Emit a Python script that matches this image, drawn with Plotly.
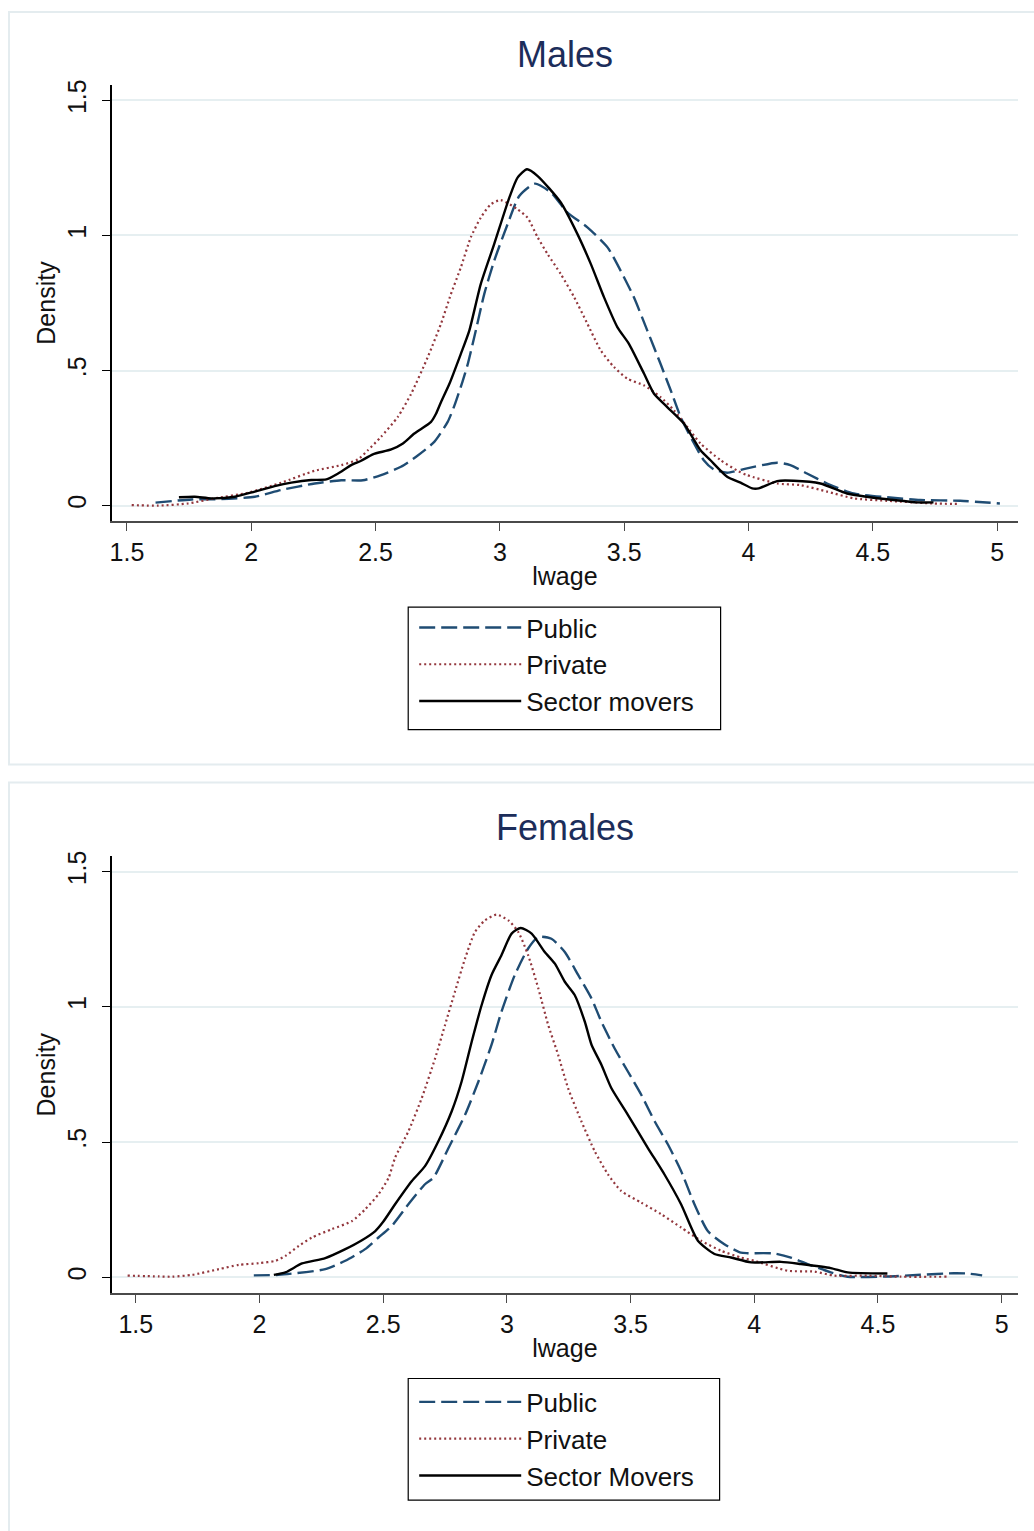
import plotly.graph_objects as go

W, H = 1034, 1531

# ---------------- data ----------------
m_pub_x = [1.615, 1.76, 1.88, 2.014, 2.121, 2.255, 2.362, 2.449, 2.522, 2.602, 2.663, 2.736, 2.79, 2.817, 2.85,
           2.871, 2.897, 2.937, 2.977, 3.031, 3.078, 3.141, 3.205, 3.272, 3.352, 3.433, 3.486, 3.539, 3.593,
           3.646, 3.687, 3.727, 3.774, 3.82, 3.86, 3.914, 3.994, 4.115, 4.168, 4.235, 4.316, 4.423, 4.557,
           4.69, 4.851, 5.011]
m_pub_y = [0.011, 0.023, 0.024, 0.033, 0.058, 0.082, 0.094, 0.094, 0.113, 0.144, 0.181, 0.236, 0.31, 0.37, 0.46,
           0.525, 0.624, 0.783, 0.906, 1.042, 1.146, 1.192, 1.159, 1.085, 1.03, 0.956, 0.869, 0.771, 0.648,
           0.525, 0.427, 0.328, 0.242, 0.168, 0.134, 0.122, 0.138, 0.159, 0.15, 0.119, 0.082, 0.045, 0.031,
           0.021, 0.018, 0.008]

m_pri_x = [1.519, 1.626, 1.746, 1.853, 1.987, 2.121, 2.255, 2.362, 2.429, 2.469, 2.522, 2.589, 2.643, 2.71,
           2.763, 2.803, 2.843, 2.883, 2.923, 2.963, 3.003, 3.071, 3.111, 3.152, 3.192, 3.245, 3.299, 3.352,
           3.406, 3.459, 3.513, 3.58, 3.646, 3.7, 3.754, 3.807, 3.888, 3.954, 3.994, 4.115, 4.208, 4.316,
           4.423, 4.557, 4.744, 4.851]
m_pri_y = [0.002, 0.0, 0.008, 0.027, 0.048, 0.085, 0.129, 0.15, 0.171, 0.205, 0.255, 0.328, 0.414, 0.55,
           0.673, 0.783, 0.882, 0.993, 1.066, 1.115, 1.131, 1.097, 1.066, 0.993, 0.931, 0.857, 0.771, 0.673,
           0.574, 0.513, 0.47, 0.445, 0.402, 0.353, 0.291, 0.23, 0.168, 0.13, 0.113, 0.082, 0.076, 0.052,
           0.027, 0.018, 0.008, 0.006]

m_mov_x = [1.709, 1.773, 1.84, 1.934, 2.014, 2.094, 2.161, 2.241, 2.302, 2.349, 2.402, 2.442, 2.489, 2.563,
           2.61, 2.656, 2.723, 2.743, 2.763, 2.797, 2.843, 2.877, 2.923, 2.977, 3.038, 3.071, 3.109, 3.152,
           3.245, 3.312, 3.366, 3.419, 3.473, 3.519, 3.58, 3.62, 3.673, 3.74, 3.807, 3.847, 3.914, 3.968,
           4.015, 4.041, 4.115, 4.182, 4.289, 4.396, 4.476, 4.583, 4.677, 4.744]
m_mov_y = [0.031, 0.033, 0.027, 0.033, 0.052, 0.072, 0.085, 0.095, 0.097, 0.119, 0.15, 0.166, 0.19, 0.208,
           0.23, 0.267, 0.31, 0.34, 0.383, 0.451, 0.562, 0.648, 0.82, 0.968, 1.14, 1.214, 1.245, 1.22,
           1.122, 1.005, 0.894, 0.771, 0.66, 0.599, 0.488, 0.414, 0.365, 0.304, 0.205, 0.168, 0.107, 0.085,
           0.064, 0.064, 0.091, 0.092, 0.082, 0.045, 0.033, 0.021, 0.012, 0.012]

f_pub_x = [1.977, 2.078, 2.266, 2.347, 2.427, 2.481, 2.535, 2.602, 2.669, 2.703, 2.764, 2.831, 2.885, 2.938,
           2.978, 3.032, 3.086, 3.127, 3.18, 3.234, 3.288, 3.342, 3.382, 3.435, 3.489, 3.543, 3.597, 3.651,
           3.704, 3.758, 3.812, 3.879, 3.946, 3.973, 4.081, 4.148, 4.215, 4.309, 4.377, 4.538, 4.672, 4.806,
           4.86, 4.921]
f_pub_y = [0.007, 0.009, 0.03, 0.061, 0.104, 0.147, 0.19, 0.27, 0.344, 0.368, 0.478, 0.601, 0.724, 0.86,
           0.982, 1.118, 1.216, 1.259, 1.252, 1.203, 1.118, 1.031, 0.945, 0.847, 0.761, 0.675, 0.577, 0.491,
           0.393, 0.27, 0.171, 0.122, 0.091, 0.089, 0.088, 0.073, 0.049, 0.018, 0.002, 0.003, 0.009, 0.015,
           0.014, 0.007]

f_pri_x = [1.467, 1.594, 1.648, 1.729, 1.836, 1.917, 1.998, 2.065, 2.105, 2.159, 2.212, 2.293, 2.374, 2.427,
           2.481, 2.522, 2.548, 2.602, 2.656, 2.71, 2.75, 2.79, 2.831, 2.871, 2.911, 2.958, 3.006, 3.046,
           3.086, 3.127, 3.167, 3.207, 3.247, 3.301, 3.355, 3.409, 3.462, 3.543, 3.624, 3.704, 3.785, 3.866,
           3.946, 4.0, 4.135, 4.242, 4.323, 4.457, 4.592, 4.78]
f_pri_y = [0.006, 0.003, 0.002, 0.009, 0.03, 0.046, 0.052, 0.061, 0.079, 0.116, 0.147, 0.178, 0.208, 0.251,
           0.307, 0.368, 0.442, 0.54, 0.663, 0.81, 0.933, 1.056, 1.179, 1.277, 1.32, 1.341, 1.32, 1.277,
           1.191, 1.068, 0.933, 0.823, 0.7, 0.577, 0.466, 0.38, 0.319, 0.276, 0.233, 0.184, 0.135, 0.098,
           0.073, 0.061, 0.024, 0.021, 0.006, 0.006, 0.002, 0.002]

f_mov_x = [2.058, 2.105, 2.172, 2.266, 2.347, 2.414, 2.468, 2.5, 2.548, 2.616, 2.669, 2.723, 2.777, 2.817,
           2.858, 2.898, 2.938, 2.978, 3.019, 3.056, 3.1, 3.153, 3.194, 3.234, 3.274, 3.315, 3.342, 3.382,
           3.422, 3.489, 3.57, 3.637, 3.704, 3.772, 3.839, 3.906, 3.987, 4.108, 4.188, 4.309, 4.377, 4.538]
f_mov_y = [0.009, 0.018, 0.051, 0.071, 0.104, 0.137, 0.171, 0.205, 0.27, 0.356, 0.411, 0.503, 0.614, 0.724,
           0.872, 1.007, 1.118, 1.191, 1.271, 1.292, 1.271, 1.203, 1.16, 1.093, 1.044, 0.945, 0.86, 0.786,
           0.7, 0.601, 0.478, 0.38, 0.27, 0.135, 0.086, 0.073, 0.055, 0.057, 0.049, 0.034, 0.018, 0.014]

panel_titles = ["Males", "Females"]
legend_names_m = ["Public", "Private", "Sector movers"]
legend_names_f = ["Public", "Private", "Sector Movers"]
x_ticks = [1.5, 2, 2.5, 3, 3.5, 4, 4.5, 5]
x_ticklabels = ["1.5", "2", "2.5", "3", "3.5", "4", "4.5", "5"]
y_ticks = [0, 0.5, 1, 1.5]
y_ticklabels = ["0", ".5", "1", "1.5"]

# ---------------- styles ----------------
BLUE = "#1f4c73"
RED = "#93373d"
BLACK = "#000000"
NAVY = "#1c2d5a"
GRID = "#e6eff1"
FONT = "Liberation Sans, Arial, Helvetica, sans-serif"


def px_x(p):
    return p / W


def px_y(p):
    return 1 - p / H


fig = go.Figure()

styles = [dict(color=BLUE, width=2.4, dash="16px,6px"),
          dict(color=RED, width=2.2, dash="2px,3px"),
          dict(color=BLACK, width=2.4)]

series_m = [(m_pub_x, m_pub_y), (m_pri_x, m_pri_y), (m_mov_x, m_mov_y)]
series_f = [(f_pub_x, f_pub_y), (f_pri_x, f_pri_y), (f_mov_x, f_mov_y)]

for (xs, ys), name, st in zip(series_m, legend_names_m, styles):
    fig.add_trace(go.Scatter(x=xs, y=ys, name=name, mode="lines", line=dict(**st, shape="spline", smoothing=0.6),
                             xaxis="x", yaxis="y", legend="legend"))
for (xs, ys), name, st in zip(series_f, legend_names_f, styles):
    fig.add_trace(go.Scatter(x=xs, y=ys, name=name, mode="lines", line=dict(**st, shape="spline", smoothing=0.6),
                             xaxis="x2", yaxis="y2", legend="legend2"))

xdom = [px_x(110), px_x(1018)]
common_x = dict(tickmode="array", tickvals=x_ticks, ticktext=x_ticklabels, showgrid=False, zeroline=False,
                showline=True, linecolor="#4a4a4a", linewidth=1.5, ticks="outside", ticklen=8, tickwidth=1.3,
                tickcolor="#4a4a4a", tickfont=dict(family=FONT, size=25, color="#111"),
                title=dict(text="lwage", font=dict(family=FONT, size=25, color="#111"), standoff=2),
                ticklabelstandoff=0)
common_y = dict(tickmode="array", tickvals=y_ticks, ticktext=y_ticklabels, showgrid=True, gridcolor=GRID,
                gridwidth=2, zeroline=False, showline=True, linecolor="#000", linewidth=1.5, ticks="outside",
                ticklen=8, tickwidth=1.3, tickcolor="#000", tickangle=-90,
                tickfont=dict(family=FONT, size=25, color="#111"),
                title=dict(text="Density", font=dict(family=FONT, size=25, color="#111"), standoff=0),
                ticklabelstandoff=6)

legend_common = dict(xanchor="left", yanchor="top", borderwidth=0, bgcolor="rgba(0,0,0,0)",
                     font=dict(family=FONT, size=26, color="#111"), itemwidth=102, tracegroupgap=0)

fig.update_layout(
    width=W, height=H, margin=dict(l=0, r=0, t=0, b=0),
    paper_bgcolor="white", plot_bgcolor="white",
    font=dict(family=FONT, color="#111"),
    xaxis=dict(domain=xdom, range=[1.439, 5.084], anchor="y", **common_x),
    yaxis=dict(domain=[px_y(518), px_y(80)], range=[-0.058, 1.558], anchor="x", **common_y),
    xaxis2=dict(domain=xdom, range=[1.403, 5.066], anchor="y2", **common_x),
    yaxis2=dict(domain=[px_y(1292.7), px_y(853.8)], range=[-0.06, 1.558], anchor="x2", **common_y),
    legend=dict(x=px_x(413), y=px_y(601), **legend_common),
    legend2=dict(x=px_x(413), y=px_y(1378), **legend_common),
    showlegend=True,
)

# legend frames
for (x0, y0, x1, y1) in [(407, 604, 720, 727), (407, 1378, 719, 1500)]:
    fig.add_shape(type="rect", xref="paper", yref="paper", x0=px_x(x0), x1=px_x(x1), y0=px_y(y1), y1=px_y(y0),
                  line=dict(color="#000", width=1.2), fillcolor="white", layer="below")

# panel titles
for txt, yc in zip(panel_titles, [50, 825]):
    fig.add_annotation(text=txt, x=px_x(564), y=px_y(yc), xref="paper", yref="paper", showarrow=False,
                       font=dict(family=FONT, size=36, color=NAVY), xanchor="center", yanchor="middle")

# panel frames
for y0, y1 in [(7, 762), (780, 1540)]:
    fig.add_shape(type="rect", xref="paper", yref="paper", x0=px_x(7), x1=px_x(1045), y0=px_y(y1), y1=px_y(y0),
                  line=dict(color="#e4ecef", width=2), fillcolor="rgba(0,0,0,0)", layer="below")

fig.write_html("out.html")
